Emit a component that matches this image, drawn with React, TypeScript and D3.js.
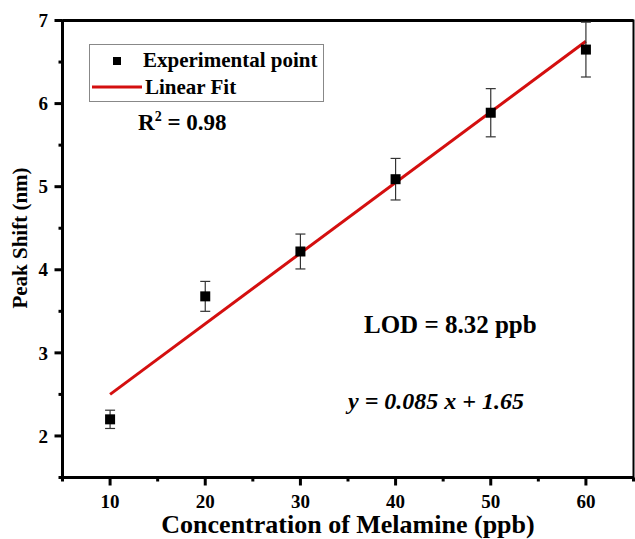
import { useEffect, useRef } from 'react';
import * as d3 from 'd3';

// melamine concentration (ppb) vs peak shift (nm)
const concentrations = [10, 20, 30, 40, 50, 60];
const peakShift = [2.2, 3.68, 4.22, 5.09, 5.89, 6.65];
const peakError = [0.11, 0.18, 0.21, 0.25, 0.29, 0.33];
const xTicks = [10, 20, 30, 40, 50, 60];
const yTicks = [2, 3, 4, 5, 6, 7];
const slope = 0.085;
const intercept = 1.65;

export default function App() {
  const svgRef = useRef<SVGSVGElement>(null);

  useEffect(() => {
    if (!svgRef.current) return;
    const svg = d3.select(svgRef.current);
    svg.selectAll('*').remove();

    const width = 635;
    const height = 539;
    const margin = { top: 20.5, right: 1.5, bottom: 61.5, left: 62.5 };

    const x = d3.scaleLinear().domain([5, 65]).range([margin.left, width - margin.right]);
    const y = d3.scaleLinear().domain([1.5, 7]).range([height - margin.bottom, margin.top]);

    // frame
    svg.append('rect')
      .attr('x', x(5))
      .attr('y', y(7))
      .attr('width', x(65) - x(5))
      .attr('height', y(1.5) - y(7))
      .attr('fill', 'none')
      .attr('stroke', '#000')
      .attr('stroke-width', 2);
    svg.append('line')
      .attr('x1', x(5)).attr('x2', x(65))
      .attr('y1', y(7)).attr('y2', y(7))
      .attr('stroke', '#000').attr('stroke-width', 3);

    // x axis
    const xAxis = svg.append('g');
    xAxis.append('line')
      .attr('x1', x(5) - 1).attr('x2', x(65))
      .attr('y1', y(1.5)).attr('y2', y(1.5))
      .attr('stroke', '#000').attr('stroke-width', 3);
    d3.range(5, 66, 5).forEach(v => {
      const major = v % 10 === 0;
      xAxis.append('line')
        .attr('x1', x(v)).attr('x2', x(v))
        .attr('y1', y(1.5)).attr('y2', y(1.5) + (major ? 8 : 4))
        .attr('stroke', '#000').attr('stroke-width', 3);
    });
    xAxis.selectAll('text.tick')
      .data(xTicks)
      .enter().append('text')
      .attr('x', d => x(d))
      .attr('y', 508)
      .attr('text-anchor', 'middle')
      .attr('font-size', '19px')
      .text(d => d);

    // y axis
    const yAxis = svg.append('g');
    yAxis.append('line')
      .attr('x1', x(5)).attr('x2', x(5))
      .attr('y1', y(7)).attr('y2', y(1.5) + 1)
      .attr('stroke', '#000').attr('stroke-width', 3);
    d3.range(1.5, 7.01, 0.5).forEach(v => {
      const major = Math.abs(v - Math.round(v)) < 0.01;
      yAxis.append('line')
        .attr('x1', x(5) - (major ? 8 : 4)).attr('x2', x(5))
        .attr('y1', y(v)).attr('y2', y(v))
        .attr('stroke', '#000').attr('stroke-width', 3);
    });
    yAxis.selectAll('text.tick')
      .data(yTicks)
      .enter().append('text')
      .attr('x', 48)
      .attr('y', d => y(d))
      .attr('dy', '0.35em')
      .attr('text-anchor', 'end')
      .attr('font-size', '19px')
      .text(d => d);

    // axis titles
    svg.append('text')
      .attr('x', (x(5) + x(65)) / 2)
      .attr('y', 533)
      .attr('text-anchor', 'middle')
      .attr('font-size', '26px')
      .text('Concentration of Melamine (ppb)');

    svg.append('text')
      .attr('transform', 'translate(27, 238) rotate(-90)')
      .attr('text-anchor', 'middle')
      .attr('font-size', '21px')
      .text('Peak Shift (nm)');

    // linear fit
    svg.append('line')
      .attr('x1', x(10)).attr('y1', y(slope * 10 + intercept))
      .attr('x2', x(60)).attr('y2', y(slope * 60 + intercept))
      .attr('stroke', '#d40f0f')
      .attr('stroke-width', 3);

    // error bars
    const points = concentrations.map((c, i) => ({ c, v: peakShift[i], e: peakError[i] }));
    const bars = svg.append('g').attr('stroke', '#333').attr('stroke-width', 1.2);
    points.forEach(p => {
      bars.append('line')
        .attr('x1', x(p.c)).attr('x2', x(p.c))
        .attr('y1', y(p.v - p.e)).attr('y2', y(p.v + p.e));
      [p.v - p.e, p.v + p.e].forEach(v => {
        bars.append('line')
          .attr('x1', x(p.c) - 5).attr('x2', x(p.c) + 5)
          .attr('y1', y(v)).attr('y2', y(v));
      });
    });

    // points
    svg.append('g')
      .selectAll('rect')
      .data(points)
      .enter().append('rect')
      .attr('x', d => x(d.c) - 5)
      .attr('y', d => y(d.v) - 5)
      .attr('width', 10)
      .attr('height', 10)
      .attr('fill', '#000');

    // legend
    const legend = svg.append('g');
    legend.append('rect')
      .attr('x', 89.5).attr('y', 44.5)
      .attr('width', 234).attr('height', 57)
      .attr('fill', '#fff')
      .attr('stroke', '#888')
      .attr('stroke-width', 1);
    legend.append('rect')
      .attr('x', 113).attr('y', 57)
      .attr('width', 8).attr('height', 8)
      .attr('fill', '#000');
    legend.append('text')
      .attr('x', 143).attr('y', 67)
      .attr('font-size', '21px')
      .text('Experimental point');
    legend.append('line')
      .attr('x1', 92).attr('x2', 142)
      .attr('y1', 87).attr('y2', 87)
      .attr('stroke', '#d40f0f')
      .attr('stroke-width', 3);
    legend.append('text')
      .attr('x', 145).attr('y', 94)
      .attr('font-size', '21px')
      .text('Linear Fit');

    // annotations
    const r2 = svg.append('text')
      .attr('x', 138).attr('y', 130)
      .attr('font-size', '23px');
    r2.append('tspan').text('R');
    r2.append('tspan').attr('dy', -9).attr('font-size', '14px').text('2');
    r2.append('tspan').attr('dy', 9).text(' = 0.98');

    svg.append('text')
      .attr('x', 364).attr('y', 333)
      .attr('font-size', '25px')
      .text('LOD = 8.32 ppb');

    svg.append('text')
      .attr('x', 348).attr('y', 409)
      .attr('font-style', 'italic')
      .attr('font-size', '24px')
      .text(`y = ${slope} x + ${intercept}`);
  }, []);

  return (
    <svg
      ref={svgRef}
      width="635"
      height="539"
      style={{
        position: 'absolute',
        left: 0,
        top: 0,
        background: '#fff',
        fontFamily: "'Liberation Serif', 'DejaVu Serif', serif",
        fontWeight: 'bold',
      }}
    />
  );
}
